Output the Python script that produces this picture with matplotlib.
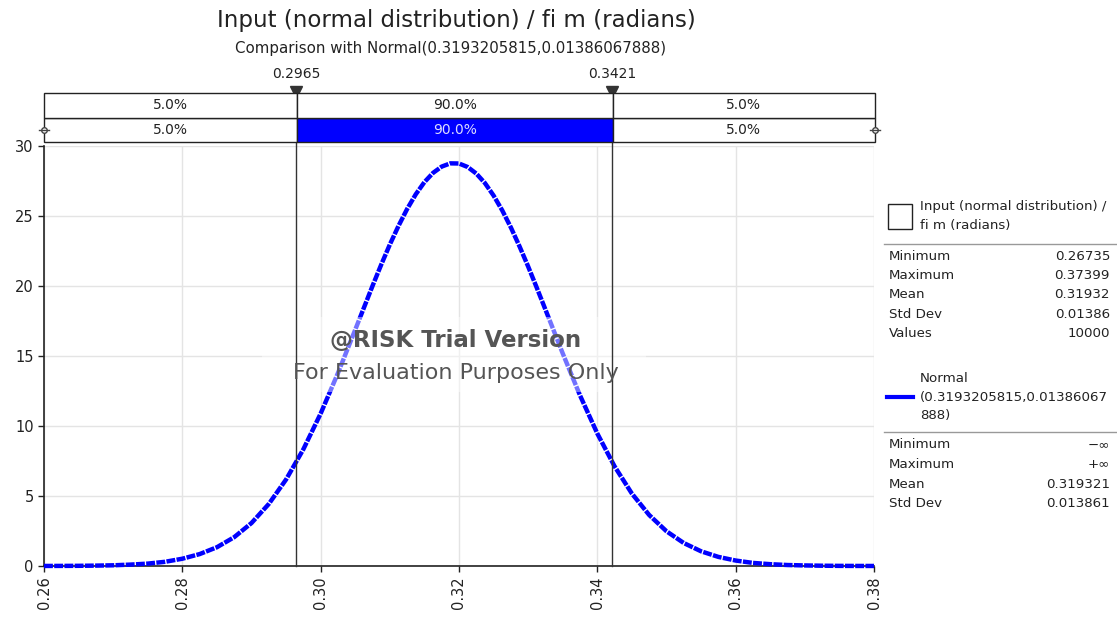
import matplotlib
matplotlib.use("Agg")
import matplotlib.pyplot as plt
from matplotlib.patches import Rectangle

# densita'
x_vals = [0.26000, 0.26250, 0.26500, 0.26750, 0.27000, 0.27250, 0.27500, 0.27750,
          0.28000, 0.28250, 0.28500, 0.28750, 0.29000, 0.29250, 0.29500, 0.29750,
          0.30000, 0.30250, 0.30500, 0.30750, 0.30875, 0.31000, 0.31125, 0.31250,
          0.31375, 0.31500, 0.31625, 0.31750, 0.31875, 0.32000, 0.32125, 0.32250,
          0.32375, 0.32500, 0.32625, 0.32750, 0.32875, 0.33000, 0.33125, 0.33250,
          0.33500, 0.33750, 0.34000, 0.34250, 0.34500, 0.34750, 0.35000, 0.35250,
          0.35500, 0.35750, 0.36000, 0.36250, 0.36500, 0.36750, 0.37000, 0.37250,
          0.37500, 0.37750, 0.38000]
density = [0.003, 0.007, 0.013, 0.027, 0.05, 0.10, 0.17, 0.30,
           0.52, 0.85, 1.34, 2.06, 3.07, 4.43, 6.18, 8.34,
           10.89, 13.78, 16.88, 20.01, 21.52, 22.96, 24.29, 25.50,
           26.55, 27.42, 28.08, 28.53, 28.76, 28.75, 28.50, 28.03,
           27.35, 26.46, 25.40, 24.18, 22.83, 21.39, 19.87, 18.31,
           15.18, 12.18, 9.46, 7.11, 5.17, 3.64, 2.48, 1.64,
           1.05, 0.65, 0.39, 0.22, 0.13, 0.07, 0.04, 0.02,
           0.009, 0.004, 0.002]

x_min, x_max = 0.26, 0.38
cut_lo, cut_hi = 0.2965, 0.3421
cut_labels = ["0.2965", "0.3421"]
seg_pct = ["5.0%", "90.0%", "5.0%"]

title = "Input (normal distribution) / fi m (radians)"
subtitle = "Comparison with Normal(0.3193205815,0.01386067888)"

stats1_names = ["Minimum", "Maximum", "Mean", "Std Dev", "Values"]
stats1_vals = ["0.26735", "0.37399", "0.31932", "0.01386", "10000"]
stats2_names = ["Minimum", "Maximum", "Mean", "Std Dev"]
stats2_vals = ["\u2212\u221e", "+\u221e", "0.319321", "0.013861"]

W, H = 1117, 621
fig = plt.figure(figsize=(W / 100, H / 100), dpi=100)
plt.rcParams['font.family'] = ['DejaVu Sans']

def fx(px):
    return px / W

def fy(py):
    return 1 - py / H

# asse principale
ax = fig.add_axes([fx(44), fy(566), fx(874) - fx(44), fy(146) - fy(566)])
ax.set_xlim(x_min, x_max)
ax.set_ylim(0, 30)
ax.set_xticks([0.26, 0.28, 0.30, 0.32, 0.34, 0.36, 0.38])
ax.set_xticklabels(["0.26", "0.28", "0.30", "0.32", "0.34", "0.36", "0.38"], rotation=90)
ax.set_yticks([0, 5, 10, 15, 20, 25, 30])
ax.tick_params(labelsize=10.5, length=4, width=1, colors='#222222')
ax.grid(True, color='#e4e4e4', linewidth=1)
ax.set_axisbelow(True)
for s in ['top', 'right']:
    ax.spines[s].set_visible(False)
for s in ['left', 'bottom']:
    ax.spines[s].set_color('#222222')
    ax.spines[s].set_linewidth(1.2)

ax.plot(x_vals, density, color='#0000ff', linewidth=3.2,
        linestyle=(0, (2.0, 0.3)), zorder=3, clip_on=False)

# linee verticali dei percentili, fino alle barre sopra
top_frac = 1 + (146 - 93) / 420
for c in (cut_lo, cut_hi):
    ax.plot([c, c], [0, top_frac], transform=ax.get_xaxis_transform(),
            color='#333333', linewidth=1, clip_on=False, zorder=4)
    ax.plot([c], [1 + (146 - 92) / 420], transform=ax.get_xaxis_transform(),
            marker='v', markersize=9, color='#333333', clip_on=False, zorder=6)

# watermark
ax.text(0.3195, 16.1, "@RISK Trial Version", fontsize=16.5, fontweight='bold',
        color='#555555', ha='center', va='center', zorder=5)
ax.text(0.3195, 13.8, "For Evaluation Purposes Only", fontsize=16, color='#555555',
        ha='center', va='center', zorder=5)
ax.add_patch(Rectangle((0.2915, 12.4), 0.0555, 5.4, facecolor='white', alpha=0.45,
                       edgecolor='none', zorder=3.5))

# barre delle percentuali
bx = fig.add_axes([fx(44), fy(142), fx(875) - fx(44), fy(93) - fy(142)])
bx.set_xlim(x_min, x_max)
bx.set_ylim(0, 2)
bx.axis('off')
edges = [x_min, cut_lo, cut_hi, x_max]
for row in (0, 1):
    for i in range(3):
        fill = '#0000ff' if (row == 0 and i == 1) else 'white'
        bx.add_patch(Rectangle((edges[i], row), edges[i + 1] - edges[i], 1,
                               facecolor=fill, edgecolor='#222222', linewidth=1,
                               clip_on=False))
        tc = '#dcdcff' if (row == 0 and i == 1) else '#222222'
        bx.text((edges[i] + edges[i + 1]) / 2, row + 0.5, seg_pct[i], fontsize=10,
                ha='center', va='center', color=tc)
for xe in (x_min, x_max):
    bx.plot([xe], [0.5], marker='o', markersize=4, markerfacecolor='white',
            markeredgecolor='#444444', clip_on=False)
    bx.plot([xe - 0.0007, xe + 0.0007], [0.5, 0.5], color='#444444', linewidth=1,
            clip_on=False)

for c, lab in zip((cut_lo, cut_hi), cut_labels):
    fig.text(fx(44) + (c - x_min) / (x_max - x_min) * (fx(875) - fx(44)), fy(74),
             lab, fontsize=10, ha='center', va='center', color='#222222')

fig.text(fx(456), fy(20), title, fontsize=16.5, ha='center', va='center', color='#222222')
fig.text(fx(451), fy(49), subtitle, fontsize=10.8, ha='center', va='center', color='#222222')

# legenda a destra
lx, rx = fx(889), fx(1110)
fig.patches.append(Rectangle((fx(888), fy(229)), fx(24), fy(204) - fy(229),
                             transform=fig.transFigure, facecolor='white',
                             edgecolor='#222222', linewidth=1))
fig.text(fx(920), fy(207), "Input (normal distribution) /", fontsize=9.6, va='center', color='#222222')
fig.text(fx(920), fy(225), "fi m (radians)", fontsize=9.6, va='center', color='#222222')
fig.add_artist(plt.Line2D([fx(884), fx(1116)], [fy(244), fy(244)], color='#999999', linewidth=1))
for k, (n, v) in enumerate(zip(stats1_names, stats1_vals)):
    yy = fy(256 + k * 19.5)
    fig.text(lx, yy, n, fontsize=9.6, va='center', color='#222222')
    fig.text(rx, yy, v, fontsize=9.6, va='center', ha='right', color='#222222')

fig.add_artist(plt.Line2D([fx(887), fx(913)], [fy(397), fy(397)], color='#0000ff', linewidth=3))
fig.text(fx(920), fy(378), "Normal", fontsize=9.6, va='center', color='#222222')
fig.text(fx(920), fy(397), "(0.3193205815,0.01386067", fontsize=9.6, va='center', color='#222222')
fig.text(fx(920), fy(416), "888)", fontsize=9.6, va='center', color='#222222')
fig.add_artist(plt.Line2D([fx(884), fx(1116)], [fy(432), fy(432)], color='#999999', linewidth=1))
for k, (n, v) in enumerate(zip(stats2_names, stats2_vals)):
    yy = fy(445 + k * 19.5)
    fig.text(lx, yy, n, fontsize=9.6, va='center', color='#222222')
    fig.text(rx, yy, v, fontsize=9.6, va='center', ha='right', color='#222222')

fig.savefig("out.png", dpi=100)
